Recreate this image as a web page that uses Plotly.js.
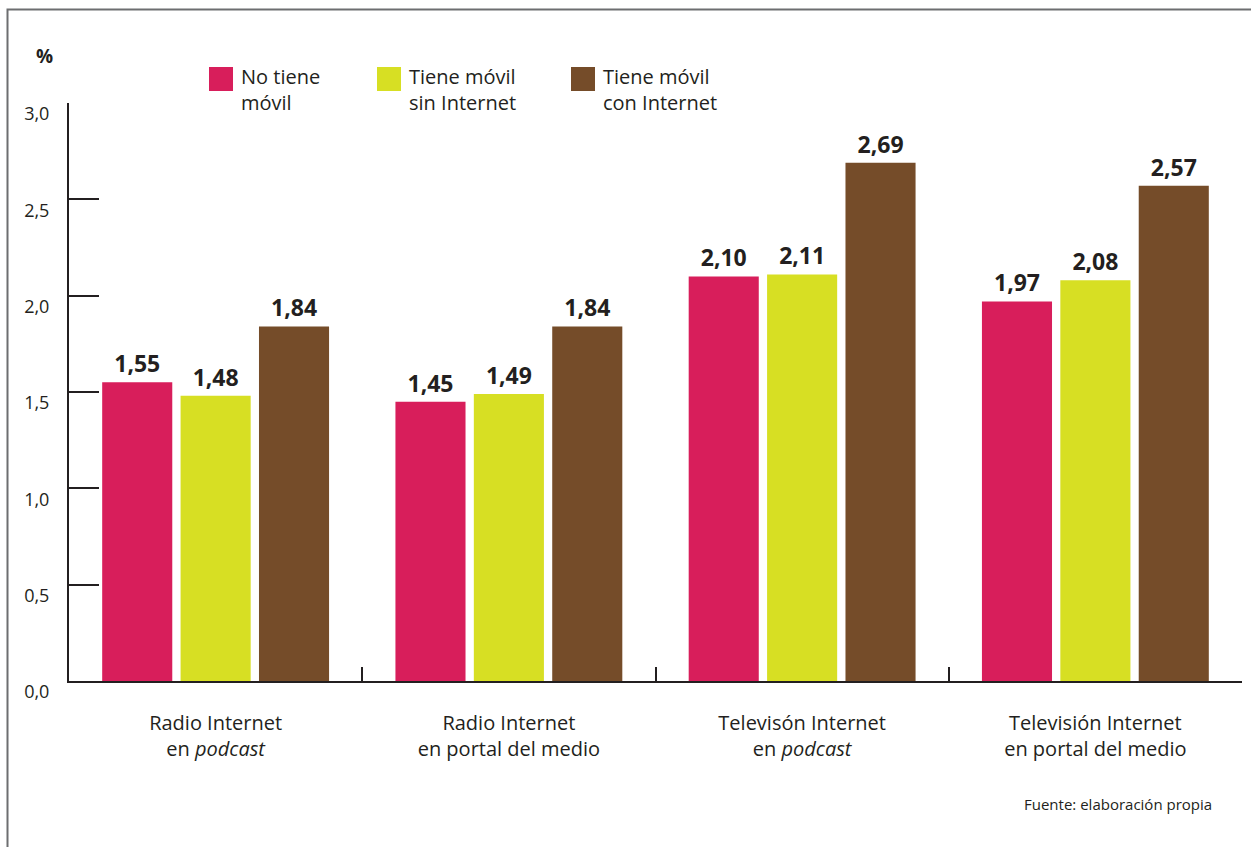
<!DOCTYPE html>
<html>
<head>
<meta charset="utf-8">
<script src="https://cdn.plot.ly/plotly-3.0.1.min.js"></script>
<style>
  html, body { margin: 0; padding: 0; background: #ffffff; }
  #chart { width: 1251px; height: 847px; }
</style>
</head>
<body>
<div id="chart"></div>
<script>
// ---- data ----
const categories = ['radio_podcast', 'radio_portal', 'tv_podcast', 'tv_portal'];
const tickLabels = [
  'Radio Internet<br>en <i>podcast</i>',
  'Radio Internet<br>en portal del medio',
  'Televisón Internet<br>en <i>podcast</i>',
  'Televisión Internet<br>en portal del medio'
];
const seriesNames = ['No tiene<br>móvil', 'Tiene móvil<br>sin Internet', 'Tiene móvil<br>con Internet'];
const noTieneMovil = [1.55, 1.45, 2.10, 1.97];
const movilSinInternet = [1.48, 1.49, 2.11, 2.08];
const movilConInternet = [1.84, 1.84, 2.69, 2.57];
const seriesValues = [noTieneMovil, movilSinInternet, movilConInternet];
const seriesColors = ['#d81e5b', '#d7df23', '#754c29'];
const yTickVals = [0, 0.5, 1, 1.5, 2, 2.5, 3];

// ---- layout helpers ----
const W = 1251, H = 847;
const M = { l: 69, r: 9, t: 103, b: 166 };
const PW = W - M.l - M.r, PH = H - M.t - M.b;
const px = X => (X - M.l) / PW;
const py = Y => (H - M.b - Y) / PH;
const ink = '#231f20';
const FONT = 'Open Sans, Noto Sans, Liberation Sans, sans-serif';

const traces = seriesValues.map((vals, i) => ({
  type: 'bar',
  x: categories,
  y: vals,
  name: seriesNames[i],
  marker: { color: seriesColors[i], line: { width: 0 } },
  texttemplate: '%{y:.2f}',
  textposition: 'outside',
  cliponaxis: false,
  textfont: { family: FONT, size: 23, color: ink, weight: 700 },
  showlegend: false,
  hoverinfo: 'skip'
}));

// custom legend (squares + text)
const legendX = [209, 377, 571];
const shapes = [];
const annotations = [];
seriesNames.forEach((n, i) => {
  shapes.push({
    type: 'rect', xref: 'paper', yref: 'paper',
    x0: px(legendX[i]), x1: px(legendX[i] + 24),
    y0: py(91), y1: py(67),
    fillcolor: seriesColors[i], line: { width: 0 }
  });
  annotations.push({
    xref: 'paper', yref: 'paper',
    x: px(legendX[i] + 30), y: py(61),
    xanchor: 'left', yanchor: 'top', align: 'left',
    text: n, showarrow: false,
    font: { family: FONT, size: 20, color: ink }
  });
});

// frame (top and left border)
shapes.push({
  type: 'path', xref: 'paper', yref: 'paper',
  path: 'M ' + px(7.5) + ' ' + py(H + 5) + ' L ' + px(7.5) + ' ' + py(9.5) + ' L ' + px(W + 5) + ' ' + py(9.5),
  line: { color: '#6d6e70', width: 2 }
});

annotations.push({
  xref: 'paper', yref: 'paper', x: px(44), y: py(56),
  xanchor: 'center', yanchor: 'middle',
  text: '<b>%</b>', showarrow: false,
  font: { family: FONT, size: 19, color: ink }
});
annotations.push({
  xref: 'paper', yref: 'paper', x: px(1214), y: py(804),
  xanchor: 'right', yanchor: 'middle',
  text: 'Fuente: elaboración propia', showarrow: false,
  font: { family: FONT, size: 15, color: ink }
});

const layout = {
  width: W, height: H,
  margin: M,
  paper_bgcolor: '#ffffff',
  plot_bgcolor: '#ffffff',
  separators: ',.',
  barmode: 'group',
  bargap: 0.198,
  bargroupgap: 0.106,
  showlegend: false,
  font: { family: FONT, color: ink },
  xaxis: {
    type: 'category',
    tickvals: categories,
    ticktext: tickLabels,
    tickson: 'boundaries',
    ticks: 'inside', ticklen: 14, tickwidth: 2, tickcolor: ink,
    showline: true, linecolor: ink, linewidth: 2,
    showgrid: false, zeroline: false,
    ticklabelstandoff: 23,
    tickfont: { family: FONT, size: 20, color: ink },
    fixedrange: true
  },
  yaxis: {
    range: [0, 3],
    tickvals: yTickVals,
    tickformat: '.1f',
    ticks: 'inside', ticklen: 30, tickwidth: 2, tickcolor: ink,
    showline: true, linecolor: ink, linewidth: 2,
    showgrid: false, zeroline: false,
    ticklabelstandoff: 14,
    ticklabelshift: 11,
    tickfont: { family: FONT, size: 18, color: ink },
    fixedrange: true
  },
  shapes: shapes,
  annotations: annotations
};

Plotly.newPlot('chart', traces, layout, { displayModeBar: false, staticPlot: true });
</script>
</body>
</html>
